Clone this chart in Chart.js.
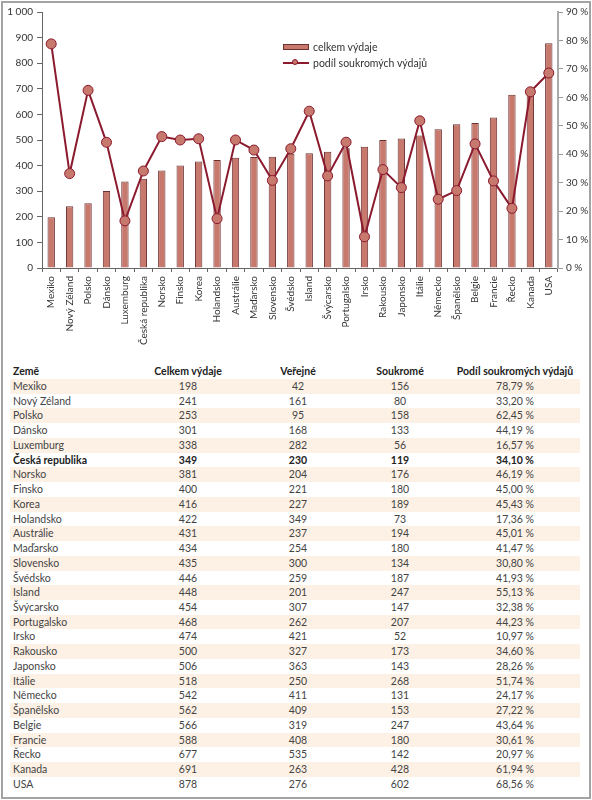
<!DOCTYPE html>
<html lang="cs">
<head>
<meta charset="utf-8">
<script src="https://cdn.jsdelivr.net/npm/chart.js@4/dist/chart.umd.min.js"></script>
<style>
  html, body { margin: 0; padding: 0; background: #fff; }
  body { width: 592px; height: 800px; position: relative; font-family: 'Lato', sans-serif; color: #333; overflow: hidden; }
  .frame { position: absolute; left: 1px; top: 1px; width: 586px; height: 794px; border: 2px solid #a3a3a3; }
  .chart-box { position: absolute; left: 0; top: 0; width: 592px; height: 362px; }
  .legend { position: absolute; left: 283px; top: 39px; font-size: 10.5px; color: #333; }
  .legend div { height: 16px; display: flex; align-items: center; }
  .sw-bar { width: 26px; height: 6px; background: #c8796d; border: 1px solid #6b3030; box-sizing: border-box; margin-right: 4px; }
  .sw-line { width: 26px; height: 2px; background: #8b1a2e; margin-right: 4px; position: relative; }
  .sw-line::after { content: ''; position: absolute; left: 9px; top: -3px; width: 6px; height: 6px; border-radius: 50%; background: #c8796d; border: 1px solid #8b1a2e; box-sizing: border-box; }
  .tbl { position: absolute; left: 10px; top: 364px; width: 570px; font-size: 10.5px; color: #444; }
  .row { display: flex; height: 14.74px; line-height: 14.74px; white-space: nowrap; }
  .row.head { height: 15px; line-height: 15px; font-weight: bold; color: #222; }
  .row.alt { background: #fdf1e5; }
  .row.bold { font-weight: bold; color: #222; }
  .row span { text-align: center; }
  .row span:nth-child(1) { width: 120px; text-align: left; padding-left: 3px; box-sizing: border-box; }
  .row span:nth-child(2) { width: 116px; }
  .row span:nth-child(3) { width: 104px; }
  .row span:nth-child(4) { width: 100px; }
  .row span:nth-child(5) { width: 130px; }
</style>
</head>
<body>
<div class="frame"></div>
<div class="chart-box"><canvas id="chart"></canvas></div>
<div class="legend">
  <div><span class="sw-bar"></span>celkem výdaje</div>
  <div><span class="sw-line"></span>podíl soukromých výdajů</div>
</div>
<div class="tbl" id="tbl"></div>
<script>
const countries = ['Mexiko', 'Nový Zéland', 'Polsko', 'Dánsko', 'Luxemburg', 'Česká republika', 'Norsko', 'Finsko', 'Korea', 'Holandsko', 'Austrálie', 'Maďarsko', 'Slovensko', 'Švédsko', 'Island', 'Švýcarsko', 'Portugalsko', 'Irsko', 'Rakousko', 'Japonsko', 'Itálie', 'Německo', 'Španělsko', 'Belgie', 'Francie', 'Řecko', 'Kanada', 'USA'];
const totalSpend = [198, 241, 253, 301, 338, 349, 381, 400, 416, 422, 431, 434, 435, 446, 448, 454, 468, 474, 500, 506, 518, 542, 562, 566, 588, 677, 691, 878];
const publicSpend = [42, 161, 95, 168, 282, 230, 204, 221, 227, 349, 237, 254, 300, 259, 201, 307, 262, 421, 327, 363, 250, 411, 409, 319, 408, 535, 263, 276];
const privateSpend = [156, 80, 158, 133, 56, 119, 176, 180, 189, 73, 194, 180, 134, 187, 247, 147, 207, 52, 173, 143, 268, 131, 153, 247, 180, 142, 428, 602];
const privateShare = [78.79, 33.20, 62.45, 44.19, 16.57, 34.10, 46.19, 45.00, 45.43, 17.36, 45.01, 41.47, 30.80, 41.93, 55.13, 32.38, 44.23, 10.97, 34.60, 28.26, 51.74, 24.17, 27.22, 43.64, 30.61, 20.97, 61.94, 68.56];
const tableHeader = ['Země', 'Celkem výdaje', 'Veřejné', 'Soukromé', 'Podíl soukromých výdajů'];
const highlight = 'Česká republika';

const fmtPct = v => v.toFixed(2).replace('.', ',') + ' %';

// tabulka pod grafem
let html = `<div class="row head">${tableHeader.map(h => `<span>${h}</span>`).join('')}</div>`;
countries.forEach((c, i) => {
    const cls = ['row'];
    if (i % 2 === 0) cls.push('alt');
    if (c === highlight) cls.push('bold');
    html += `<div class="${cls.join(' ')}"><span>${c}</span><span>${totalSpend[i]}</span><span>${publicSpend[i]}</span><span>${privateSpend[i]}</span><span>${fmtPct(privateShare[i])}</span></div>`;
});
document.getElementById('tbl').innerHTML = html;

Chart.defaults.font.family = "'Lato', sans-serif";
Chart.defaults.font.size = 10;
Chart.defaults.color = '#333';

const ctx = document.getElementById('chart').getContext('2d');
new Chart(ctx, {
    data: {
        labels: countries,
        datasets: [{
            type: 'line',
            label: 'podíl soukromých výdajů',
            data: privateShare,
            yAxisID: 'y1',
            order: 0,
            borderColor: '#8b1a2e',
            borderWidth: 2,
            pointRadius: 5,
            pointBackgroundColor: '#c8796d',
            pointBorderColor: '#8b1a2e',
            pointBorderWidth: 1,
            tension: 0
        }, {
            type: 'bar',
            label: 'celkem výdaje',
            data: totalSpend,
            yAxisID: 'y',
            order: 1,
            backgroundColor: '#c8796d',
            borderColor: '#6b3030',
            borderWidth: 1,
            categoryPercentage: 1,
            barPercentage: 0.4
        }]
    },
    options: {
        responsive: true,
        maintainAspectRatio: false,
        animation: false,
        layout: { padding: { top: 12, left: 0, right: 0, bottom: 0 } },
        plugins: { legend: { display: false }, tooltip: { enabled: false } },
        scales: {
            x: {
                grid: { drawOnChartArea: false, drawTicks: true, tickLength: 4, color: '#666', offset: true },
                border: { color: '#666', width: 1 },
                ticks: { autoSkip: false, minRotation: 90, maxRotation: 90, padding: 4, font: { size: 10 } },
                afterFit: (scale) => { scale.height = 94; }
            },
            y: {
                position: 'left',
                min: 0,
                max: 1000,
                grid: { drawOnChartArea: false, tickLength: 5, color: '#666' },
                border: { color: '#666', width: 1 },
                ticks: {
                    stepSize: 100,
                    padding: 4,
                    callback: function(value) { return value >= 1000 ? '1 000' : value; }
                },
                afterFit: (scale) => { scale.width = 42; }
            },
            y1: {
                position: 'right',
                min: 0,
                max: 90,
                grid: { drawOnChartArea: false, tickLength: 5, color: '#999' },
                border: { color: '#aaa', width: 2 },
                ticks: {
                    stepSize: 10,
                    padding: 3,
                    callback: function(value) { return value + ' %'; }
                },
                afterFit: (scale) => { scale.width = 34; }
            }
        }
    }
});
</script>
</body>
</html>
